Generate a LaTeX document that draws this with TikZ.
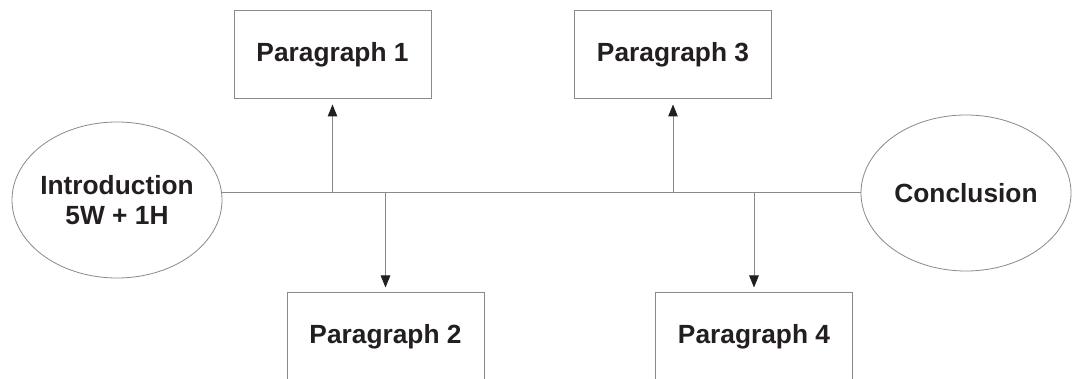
\documentclass[tikz,border=0pt]{standalone}
\usepackage{fontspec}
\setmainfont{Liberation Sans}
\usetikzlibrary{arrows.meta,shapes.geometric}
\definecolor{inkdark}{HTML}{231F20}
\definecolor{linegrey}{HTML}{8A8A8A}

\begin{document}
\begin{tikzpicture}[x=1pt,y=-1pt,
    every node/.style={font=\fontsize{26.3}{30}\selectfont\bfseries, text=inkdark, align=center},
    parbox/.style={draw=linegrey, line width=1pt, rectangle, minimum width=197pt, minimum height=88pt, inner sep=0pt},
    endbox/.style={draw=linegrey, line width=0.8pt, ellipse, minimum width=210pt, minimum height=156pt, inner sep=-8pt},
    link/.style={draw=linegrey, line width=1pt},
    arr/.style={link, -{Triangle[length=12pt,width=9.5pt,color=inkdark]}, shorten >=5pt}]
  \useasboundingbox (0,0) rectangle (1079,379);
  \clip (0,0) rectangle (1079,379);
  \fill[white] (0,0) rectangle (1079,379);
  % ends
  \node[endbox] (intro) at (117,200) {Introduction\\5W + 1H};
  \node[endbox] (concl) at (966,193) {Conclusion};
  % paragraphs
  \node[parbox] (p1) at (332.5,55) {Paragraph 1};
  \node[parbox] (p3) at (673,55) {Paragraph 3};
  \node[parbox] (p2) at (385.5,337) {Paragraph 2};
  \node[parbox] (p4) at (754,337) {Paragraph 4};
  % main line and branches
  \draw[link] (intro.east |- concl.west) -- (concl.west);
  \draw[arr] (p1.south |- concl.west) -- (p1.south);
  \draw[arr] (p3.south |- concl.west) -- (p3.south);
  \draw[arr] (p2.north |- concl.west) -- (p2.north);
  \draw[arr] (p4.north |- concl.west) -- (p4.north);
\end{tikzpicture}
\end{document}
